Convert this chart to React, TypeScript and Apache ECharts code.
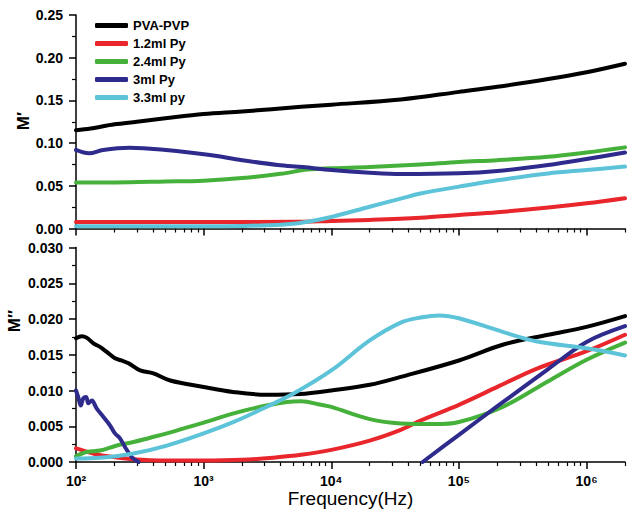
import React, { useEffect, useRef } from 'react';
import * as echarts from 'echarts';

// ---------- data (frequency in Hz, value) ----------
const SERIES_NAMES = ['PVA-PVP', '1.2ml Py', '2.4ml Py', '3ml Py', '3.3ml py'];
const COLORS = ['#000000', '#e8262b', '#45b13a', '#2e2b8c', '#5cc3d8'];

const F_MIN = 100;
const F_MAX = 2e6;
const DECADES = [2, 3, 4, 5, 6];

// M' (real part)
const M1_PVA_PVP: [number, number][] = [
  [100, 0.115], [130, 0.117], [200, 0.122], [300, 0.125], [500, 0.129], [1000, 0.134],
  [2000, 0.137], [5800, 0.1425], [1e4, 0.145], [3.5e4, 0.151], [1e5, 0.16], [2e5, 0.166],
  [5e5, 0.175], [1e6, 0.183], [2e6, 0.193],
];
const M1_PY12: [number, number][] = [
  [100, 0.0077], [1000, 0.0077], [5000, 0.0078], [1e4, 0.0088], [2e4, 0.01], [5e4, 0.0125],
  [1e5, 0.0158], [2e5, 0.019], [5e5, 0.0245], [1e6, 0.0295], [2e6, 0.0355],
];
const M1_PY24: [number, number][] = [
  [100, 0.054], [200, 0.054], [500, 0.055], [1000, 0.056], [2000, 0.059], [4000, 0.064],
  [6500, 0.069], [1e4, 0.0705], [2e4, 0.072], [5e4, 0.075], [1e5, 0.078], [2e5, 0.08],
  [5e5, 0.084], [1e6, 0.089], [2e6, 0.095],
];
const M1_PY3: [number, number][] = [
  [100, 0.092], [127, 0.088], [163, 0.092], [262, 0.0946], [337, 0.094], [613, 0.0907],
  [1120, 0.086], [2000, 0.08], [3800, 0.0744], [6000, 0.072], [1e4, 0.0685], [2e4, 0.0653],
  [3.5e4, 0.0638], [1e5, 0.0646], [2e5, 0.0673], [5e5, 0.0744], [1e6, 0.0814], [2e6, 0.089],
];
const M1_PY33: [number, number][] = [
  [100, 0.0025], [1000, 0.0025], [2000, 0.003], [4000, 0.0045], [6000, 0.007], [1e4, 0.0135],
  [2e4, 0.0255], [3.5e4, 0.035], [5e4, 0.041], [1e5, 0.049], [2e5, 0.0565], [5e5, 0.0645],
  [1e6, 0.0685], [2e6, 0.0725],
];

// M'' (imaginary part)
const M2_PVA_PVP: [number, number][] = [
  [100, 0.0173], [111, 0.0176], [121, 0.0174], [137, 0.0166], [154, 0.0161], [174, 0.0154],
  [202, 0.0145], [228, 0.0142], [258, 0.0138], [318, 0.0128], [404, 0.0124], [547, 0.0114],
  [1000, 0.0105], [1700, 0.0098], [3100, 0.0094], [5700, 0.0095], [1e4, 0.01], [2e4, 0.0108],
  [3.5e4, 0.0119], [1e5, 0.0142], [2.2e5, 0.0164], [5e5, 0.0178], [1e6, 0.0189], [2e6, 0.0204],
];
const M2_PY12: [number, number][] = [
  [100, 0.0019], [130, 0.0013], [160, 0.0009], [280, 0.0004], [500, 0.0002], [1000, 0.0002],
  [2000, 0.0003], [3500, 0.0006], [5800, 0.001], [1e4, 0.0017], [2e4, 0.003], [3.5e4, 0.0045],
  [5e4, 0.0058], [1e5, 0.008], [2e5, 0.0105], [4e5, 0.013], [1e6, 0.0155], [2e6, 0.0178],
];
const M2_PY24: [number, number][] = [
  [100, 0.0008], [121, 0.0014], [154, 0.0016], [209, 0.0023], [282, 0.0028], [381, 0.0034],
  [515, 0.004], [700, 0.0047], [1000, 0.0055], [1720, 0.0068], [3100, 0.0079], [4500, 0.0084],
  [5800, 0.0085], [8300, 0.008], [1e4, 0.0077], [2e4, 0.006], [3.5e4, 0.0054], [6.5e4, 0.0053],
  [1e5, 0.0056], [2.2e5, 0.0077], [5e5, 0.0113], [1e6, 0.0143], [2e6, 0.0167],
];
const M2_PY3: [number, number | null][] = [
  [100, 0.01], [104, 0.0091], [109, 0.0079], [114, 0.0089], [120, 0.0091], [125, 0.0082],
  [133, 0.0086], [145, 0.0075], [164, 0.0063], [185, 0.0051], [202, 0.004], [221, 0.0033],
  [242, 0.0021], [273, 0.0007], [309, 0], [3000, null], [5.2e4, 0], [1e5, 0.0038],
  [2e5, 0.0078], [5e5, 0.013], [1e6, 0.0168], [2e6, 0.019],
];
const M2_PY33: [number, number][] = [
  [100, 0.0005], [154, 0.0006], [282, 0.0012], [515, 0.0023], [1000, 0.004], [1720, 0.0056],
  [3100, 0.0077], [5100, 0.0096], [1e4, 0.0128], [2e4, 0.017], [3.5e4, 0.0195], [5e4, 0.0202],
  [7e4, 0.0205], [1e5, 0.0201], [2.2e5, 0.0182], [4e5, 0.0169], [1e6, 0.0159], [2e6, 0.0149],
];

const TOP_DATA = [M1_PVA_PVP, M1_PY12, M1_PY24, M1_PY3, M1_PY33];
const BOTTOM_DATA = [M2_PVA_PVP, M2_PY12, M2_PY24, M2_PY3, M2_PY33];

const SUP: Record<number, string> = { 2: '²', 3: '³', 4: '⁴', 5: '⁵', 6: '⁶' };
const FONT = '"Liberation Sans", Arial, Helvetica, sans-serif';

export default function App() {
  const ref = useRef<HTMLDivElement>(null);

  useEffect(() => {
    if (!ref.current) return;
    const chart = echarts.init(ref.current, undefined, { renderer: 'svg' });

    const lmin = Math.log10(F_MIN);
    const lmax = Math.log10(F_MAX);
    const minorTicks: number[] = [];
    for (const d of DECADES) {
      for (let k = 2; k <= 9; k++) {
        const f = k * Math.pow(10, d);
        if (f <= F_MAX) minorTicks.push(Math.log10(f));
      }
    }

    const toXY = (pts: [number, number | null][]) =>
      pts.map(([f, v]) => [Math.log10(f), v]);

    const majorX = (gi: number, showLabel: boolean, name?: string) => ({
      gridIndex: gi,
      type: 'value',
      min: lmin,
      max: lmax,
      position: 'bottom',
      name,
      nameLocation: 'middle',
      nameGap: 27,
      nameTextStyle: { fontSize: 19, color: '#000', fontFamily: FONT },
      axisLine: { show: true, onZero: false, lineStyle: { color: '#000', width: 1.5 } },
      axisTick: { show: true, customValues: DECADES, length: 7, lineStyle: { color: '#000', width: 1.5 } },
      axisLabel: {
        show: showLabel,
        customValues: DECADES,
        formatter: (v: number) => '10' + (SUP[Math.round(v)] || ''),
        fontSize: 14,
        fontWeight: 'bold',
        color: '#000',
        fontFamily: FONT,
        margin: 12,
      },
      splitLine: { show: false },
    });
    const minorX = (gi: number) => ({
      gridIndex: gi,
      type: 'value',
      min: lmin,
      max: lmax,
      position: 'bottom',
      axisLine: { show: false, onZero: false },
      axisTick: { show: true, customValues: minorTicks, length: 4, lineStyle: { color: '#000', width: 1.2 } },
      axisLabel: { show: false },
      splitLine: { show: false },
    });
    const yAx = (gi: number, max: number, interval: number, digits: number) => ({
      gridIndex: gi,
      type: 'value',
      min: 0,
      max,
      interval,
      axisLine: { show: true, lineStyle: { color: '#000', width: 1.5 } },
      axisTick: { show: true, length: 7, lineStyle: { color: '#000', width: 1.5 } },
      minorTick: { show: true, splitNumber: 2, length: 4, lineStyle: { color: '#000', width: 1.2 } },
      axisLabel: {
        formatter: (v: number) => v.toFixed(digits),
        fontSize: 14,
        fontWeight: 'bold',
        color: '#000',
        fontFamily: FONT,
        margin: 13,
      },
      splitLine: { show: false },
    });

    const mkSeries = (data: [number, number | null][], i: number, panel: number) => ({
      name: SERIES_NAMES[i],
      type: 'line',
      xAxisIndex: panel === 0 ? 0 : 2,
      yAxisIndex: panel,
      data: toXY(data),
      showSymbol: false,
      symbol: 'none',
      smooth: 0.35,
      connectNulls: false,
      lineStyle: { color: COLORS[i], width: 4, cap: 'round', join: 'round' },
      itemStyle: { color: COLORS[i] },
      z: 2,
    });

    chart.setOption({
      animation: false,
      backgroundColor: '#ffffff',
      textStyle: { fontFamily: FONT },
      grid: [
        { left: 76, right: 2, top: 15, height: 213.5 },
        { left: 76, right: 2, top: 247.5, height: 214.5 },
      ],
      xAxis: [majorX(0, false), minorX(0), majorX(1, true, 'Frequency(Hz)'), minorX(1)],
      yAxis: [yAx(0, 0.25, 0.05, 2), yAx(1, 0.03, 0.005, 3)],
      legend: {
        data: SERIES_NAMES,
        orient: 'vertical',
        left: 95,
        top: 19,
        padding: 0,
        itemWidth: 33,
        itemHeight: 5,
        itemGap: 5,
        icon: 'roundRect',
        textStyle: { fontSize: 13, fontWeight: 'bold', color: '#000', fontFamily: FONT },
      },
      graphic: [
        {
          type: 'text',
          x: 23,
          y: 121,
          rotation: Math.PI / 2,
          style: {
            text: 'M′',
            font: 'bold 17px ' + FONT,
            fill: '#000',
            align: 'center',
            verticalAlign: 'middle',
          },
        },
        {
          type: 'text',
          x: 14,
          y: 321,
          rotation: Math.PI / 2,
          style: {
            text: 'M″',
            font: 'bold 17px ' + FONT,
            fill: '#000',
            align: 'center',
            verticalAlign: 'middle',
          },
        },
      ],
      series: [
        ...TOP_DATA.map((d, i) => mkSeries(d, i, 0)),
        ...BOTTOM_DATA.map((d, i) => mkSeries(d, i, 1)),
      ],
    });

    return () => chart.dispose();
  }, []);

  return (
    <div
      ref={ref}
      style={{ position: 'fixed', left: 0, top: 0, width: 627, height: 519, background: '#fff' }}
    />
  );
}
